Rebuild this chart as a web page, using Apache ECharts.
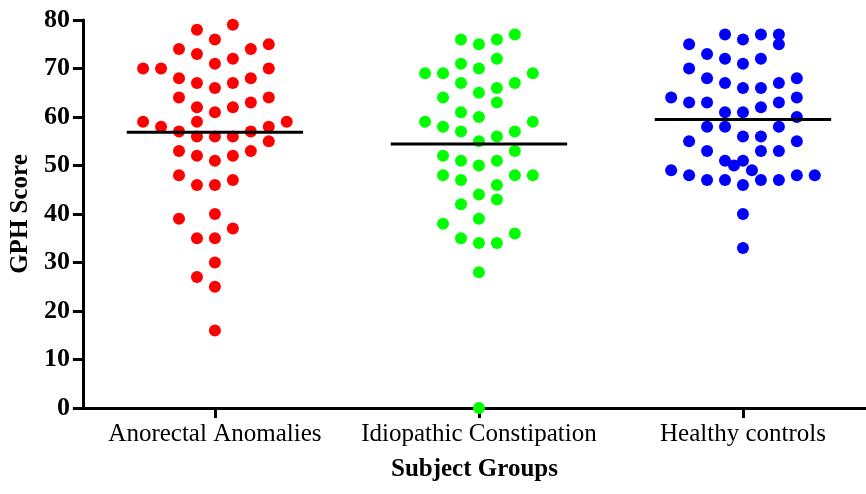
<!DOCTYPE html>
<html>
<head>
<meta charset="utf-8">
<script src="https://cdn.jsdelivr.net/npm/echarts@6/dist/echarts.min.js"></script>
<style>
html,body{margin:0;padding:0;background:#fff;}
#chart{width:866px;height:494px;}
</style>
</head>
<body>
<div id="chart"></div>
<script>
// ---- data ----
const categories = ['Anorectal Anomalies', 'Idiopathic Constipation', 'Healthy controls'];
const yTicks = [0, 10, 20, 30, 40, 50, 60, 70, 80];

const anorectalScores = [78,79,76,74,73,74,75,70,70,71,72,70,68,67,66,67,68,64,62,61,62,63,64,59,58,59,59,57,56,56,56,57,58,55,53,52,51,52,53,48,46,46,47,39,40,37,35,35,30,27,25,16];
const anorectalColumns = [-1,1,0,-2,-1,2,3,-4,-3,0,1,3,-2,-1,0,1,2,-2,-1,0,1,2,3,-4,-3,-1,4,-2,-1,0,1,2,3,3,-2,-1,0,1,2,-2,-1,0,1,-2,0,1,-1,0,0,-1,0,0];

const idiopathicScores = [76,75,76,77,71,70,72,69,69,69,67,67,65,66,64,63,61,60,59,59,58,57,57,56,55,53,52,51,50,51,48,48,48,47,46,44,43,42,38,39,35,34,34,36,28,0];
const idiopathicColumns = [-1,0,1,2,-1,0,1,-3,-2,3,-1,2,0,1,-2,1,-1,0,-3,3,-2,-1,2,1,0,2,-2,-1,0,1,-2,2,3,-1,1,0,1,-1,-2,0,-1,0,1,2,0,0];

const healthyScores = [77,76,77,77,75,75,73,72,71,72,70,68,67,66,66,67,68,64,63,63,62,63,64,61,61,60,58,58,58,56,56,55,55,53,53,53,51,51,50,49,49,48,48,48,47,47,47,47,46,40,33];
const healthyColumns = [-1,0,1,2,2,-3,-2,-1,0,1,-3,-2,-1,0,1,2,3,-4,-3,-2,1,2,3,-1,0,3,-2,-1,2,0,1,-3,3,-2,1,2,-1,0,-0.5,0.5,-4,-3,3,4,-2,-1,1,2,0,0,0];

const groupColors = ['#FF0000', '#00FF00', '#0000FF'];

// ---- layout constants ----
const COL_STEP = 0.068;     // horizontal spacing of one dot column in axis units
const MEAN_HALF = 0.334;    // half-length of mean line in axis units
const FONT = '"Liberation Serif", "Times New Roman", serif';

const groups = [
  {scores: anorectalScores, cols: anorectalColumns},
  {scores: idiopathicScores, cols: idiopathicColumns},
  {scores: healthyScores, cols: healthyColumns}
];

const series = [];
groups.forEach((g, i) => {
  const pos = i + 1;
  series.push({
    type: 'scatter',
    name: categories[i],
    symbol: 'circle',
    symbolSize: 12,
    clip: false,
    itemStyle: {color: groupColors[i], opacity: 1},
    data: g.scores.map((v, k) => [pos + g.cols[k] * COL_STEP, v]),
    z: 3
  });
});
groups.forEach((g, i) => {
  const pos = i + 1;
  const mean = g.scores.reduce((a, b) => a + b, 0) / g.scores.length;
  series.push({
    type: 'line',
    symbol: 'none',
    silent: true,
    lineStyle: {color: '#000', width: 3},
    data: [[pos - MEAN_HALF, mean], [pos + MEAN_HALF, mean]],
    z: 4
  });
});

const chart = echarts.init(document.getElementById('chart'), null, {renderer: 'canvas'});
chart.setOption({
  animation: false,
  backgroundColor: '#fff',
  grid: {left: 81, right: 0, top: 20, bottom: 86, containLabel: false},
  xAxis: {
    type: 'value',
    min: 0.5,
    max: 3.466,
    name: 'Subject Groups',
    nameLocation: 'middle',
    nameGap: 49,
    nameTextStyle: {fontFamily: FONT, fontWeight: 'bold', fontSize: 25, color: '#000'},
    axisLine: {onZero: false, lineStyle: {color: '#000', width: 3}},
    axisTick: {show: true, length: 10, customValues: [1, 2, 3], lineStyle: {color: '#000', width: 3}},
    axisLabel: {
      customValues: [1, 2, 3],
      formatter: v => categories[Math.round(v) - 1] || '',
      fontFamily: FONT, fontSize: 25, color: '#000', margin: 14
    },
    splitLine: {show: false}
  },
  yAxis: {
    type: 'value',
    min: yTicks[0],
    max: yTicks[yTicks.length - 1],
    interval: 10,
    name: 'GPH Score',
    nameLocation: 'middle',
    nameGap: 46,
    nameTextStyle: {fontFamily: FONT, fontWeight: 'bold', fontSize: 25, color: '#000'},
    axisLine: {show: true, lineStyle: {color: '#000', width: 3}},
    axisTick: {show: true, length: 10, lineStyle: {color: '#000', width: 3}},
    axisLabel: {fontFamily: FONT, fontWeight: 'bold', fontSize: 26, color: '#000', margin: 13},
    splitLine: {show: false}
  },
  series: series
});
</script>
</body>
</html>
